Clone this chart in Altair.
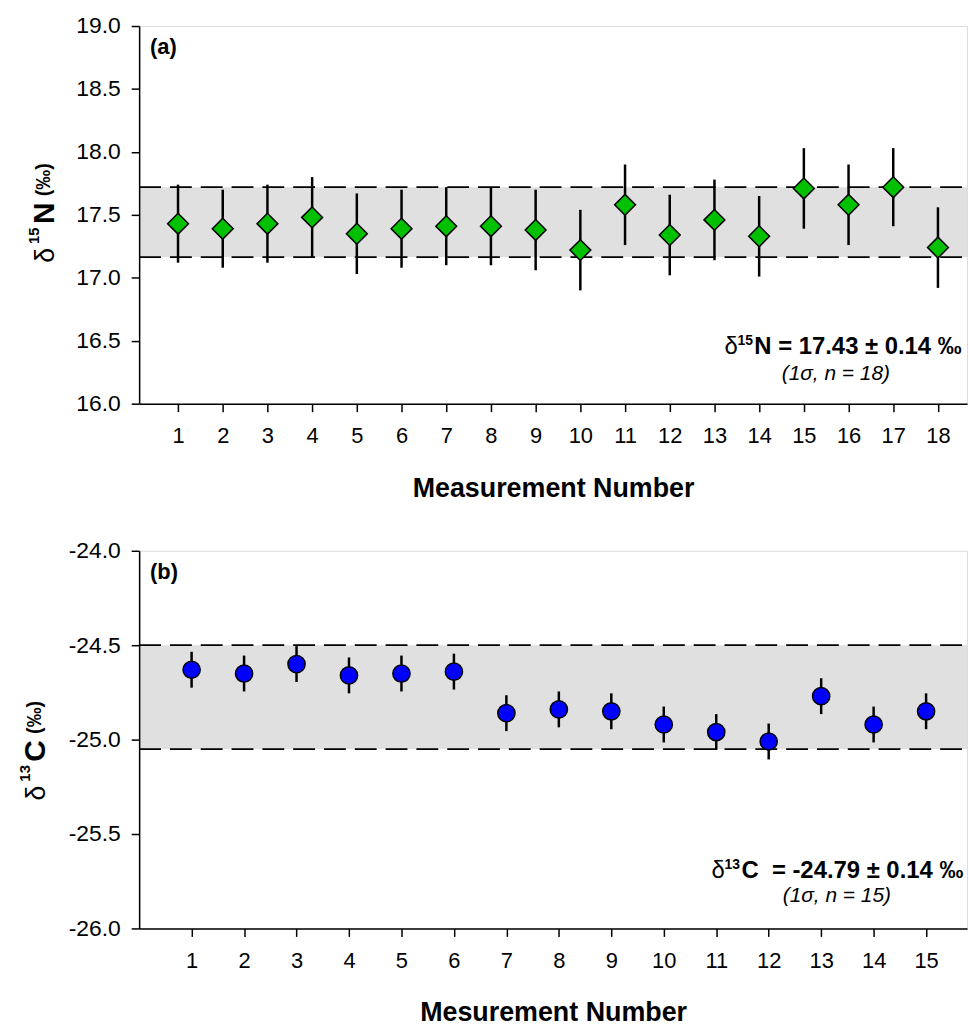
import altair as alt
import pandas as pd

# ---------------- data ----------------
meas_n = [1, 2, 3, 4, 5, 6, 7, 8, 9, 10, 11, 12, 13, 14, 15, 16, 17, 18]
d15n = [17.43, 17.39, 17.43, 17.48, 17.35, 17.39, 17.41, 17.41, 17.38,
        17.22, 17.58, 17.34, 17.46, 17.33, 17.71, 17.58, 17.72, 17.24]
d15n_err = [0.31, 0.31, 0.31, 0.32, 0.32, 0.31, 0.31, 0.31, 0.32,
            0.32, 0.32, 0.32, 0.32, 0.32, 0.32, 0.32, 0.31, 0.32]
band_n = [17.165, 17.72]

meas_c = [1, 2, 3, 4, 5, 6, 7, 8, 9, 10, 11, 12, 13, 14, 15]
d13c = [-24.63, -24.65, -24.60, -24.66, -24.65, -24.64, -24.86, -24.84,
        -24.85, -24.92, -24.96, -25.01, -24.77, -24.92, -24.85]
d13c_err = [0.095, 0.095, 0.095, 0.095, 0.095, 0.095, 0.095, 0.095,
            0.095, 0.095, 0.095, 0.095, 0.095, 0.095, 0.095]
band_c = [-25.05, -24.50]

yticks_n = [16.0, 16.5, 17.0, 17.5, 18.0, 18.5, 19.0]
yticks_c = [-26.0, -25.5, -25.0, -24.5, -24.0]

W, H = 833, 380
FONT = "Liberation Sans"


def txt(s, x, y, size, weight="normal", style="normal", angle=0, align="left"):
    return alt.Chart(pd.DataFrame({"t": [s]})).mark_text(
        font=FONT, fontSize=size, fontWeight=weight, fontStyle=style,
        angle=angle, align=align, baseline="alphabetic", color="black"
    ).encode(text="t:N", x=alt.value(x), y=alt.value(y))


def panel(xs, vals, errs, band, xdom, ydom, yticks, xtitle, shape, color, size,
          ytitle_parts, ann_parts, label):
    df = pd.DataFrame({"n": xs, "v": vals,
                       "lo": [v - e for v, e in zip(vals, errs)],
                       "hi": [v + e for v, e in zip(vals, errs)]})
    bdf = pd.DataFrame({"b0": [band[0]], "b1": [band[1]]})
    ldf = pd.DataFrame({"b": band})

    xaxis = alt.Axis(values=xs, format="d", title=xtitle, grid=False,
                     labelFont=FONT, labelFontSize=22, labelColor="black",
                     labelPadding=14, tickSize=8, tickWidth=1.5, tickColor="black",
                     domainColor="black", domainWidth=1.5,
                     titleFont=FONT, titleFontSize=27, titleFontWeight="bold",
                     titleColor="black", titlePadding=29, zindex=2)
    yaxis = alt.Axis(values=yticks, grid=False,
                     labelExpr="replace(format(datum.value, '.1f'), '\u2212', '-')",
                     labelFont=FONT, labelFontSize=23, labelColor="black",
                     labelPadding=11, tickSize=8, tickWidth=1.5, tickColor="black",
                     domainColor="black", domainWidth=1.5, zindex=2)
    xsc = alt.Scale(domain=xdom, nice=False, zero=False)
    ysc = alt.Scale(domain=ydom, nice=False, zero=False)

    def X(f):
        return alt.X(f, type="quantitative", scale=xsc, axis=xaxis, title=xtitle)

    def Y(f):
        return alt.Y(f, type="quantitative", scale=ysc, axis=yaxis, title=None)

    rect = alt.Chart(bdf).mark_rect(color="#e0e0e0").encode(
        y=Y("b0"), y2="b1", x=alt.value(0), x2=alt.value(W))
    dash = alt.Chart(ldf).mark_rule(color="black", strokeWidth=1.8,
                                    strokeDash=[22, 9]).encode(
        y=Y("b"), x=alt.value(0), x2=alt.value(W))
    err = alt.Chart(df).mark_rule(color="black", strokeWidth=2.5).encode(
        x=X("n"), y=Y("lo"), y2="hi")
    pts = alt.Chart(df).mark_point(shape=shape, filled=True, fill=color,
                                   stroke="black", strokeWidth=1.5,
                                   size=size, opacity=1).encode(
        x=X("n"), y=Y("v"))

    layers = [rect, dash, err, pts]
    for p in ytitle_parts + ann_parts:
        layers.append(txt(*p))
    layers.append(txt(label, 11, 28.3, 22, "bold"))
    return alt.layer(*layers).properties(width=W, height=H)


top = panel(
    meas_n, d15n, d15n_err, band_n, [0.13, 18.65], [16.0, 19.0], yticks_n,
    "Measurement Number", "diamond", "#00c000", 440,
    [("δ", -86, 238.3, 27, "normal", "normal", 270),
     ("15", -101, 219.3, 15, "bold", "normal", 270),
     ("N", -86, 199.3, 30, "bold", "normal", 270),
     ("(‰)", -89.5, 171.3, 20, "bold", "normal", 270)],
    [("δ", 589, 330.3, 24),
     ("15", 602, 321.3, 14, "bold"),
     ("N = 17.43 ± 0.14 ‰", 619, 330.3, 24, "bold"),
     ("(1σ, n = 18)", 701, 355.8, 21, "normal", "italic", 0, "center")],
    "(a)")

bottom = panel(
    meas_c, d13c, d13c_err, band_c, [0.0, 15.78], [-26.0, -24.0], yticks_c,
    "Mesurement Number", "circle", "#0000ff", 300,
    [("δ", -95, 251.3, 27, "normal", "normal", 270),
     ("13", -110, 232.3, 15, "bold", "normal", 270),
     ("C", -95, 212.3, 30, "bold", "normal", 270),
     ("(‰)", -98.5, 184.3, 20, "bold", "normal", 270)],
    [("δ", 576, 329.3, 24),
     ("13", 589, 320.3, 14, "bold"),
     ("C\u00a0 = -24.79 ± 0.14 ‰", 606, 329.3, 24, "bold"),
     ("(1σ, n = 15)", 702, 353.3, 21, "normal", "italic", 0, "center")],
    "(b)")

chart = alt.vconcat(top, bottom, spacing=148, bounds="flush").properties(
    padding={"left": 17, "top": 11, "right": 0, "bottom": 0}
).configure_view(stroke=None).configure(background="white")

chart.save("out.html", embed_options={"renderer": "svg", "actions": False})
